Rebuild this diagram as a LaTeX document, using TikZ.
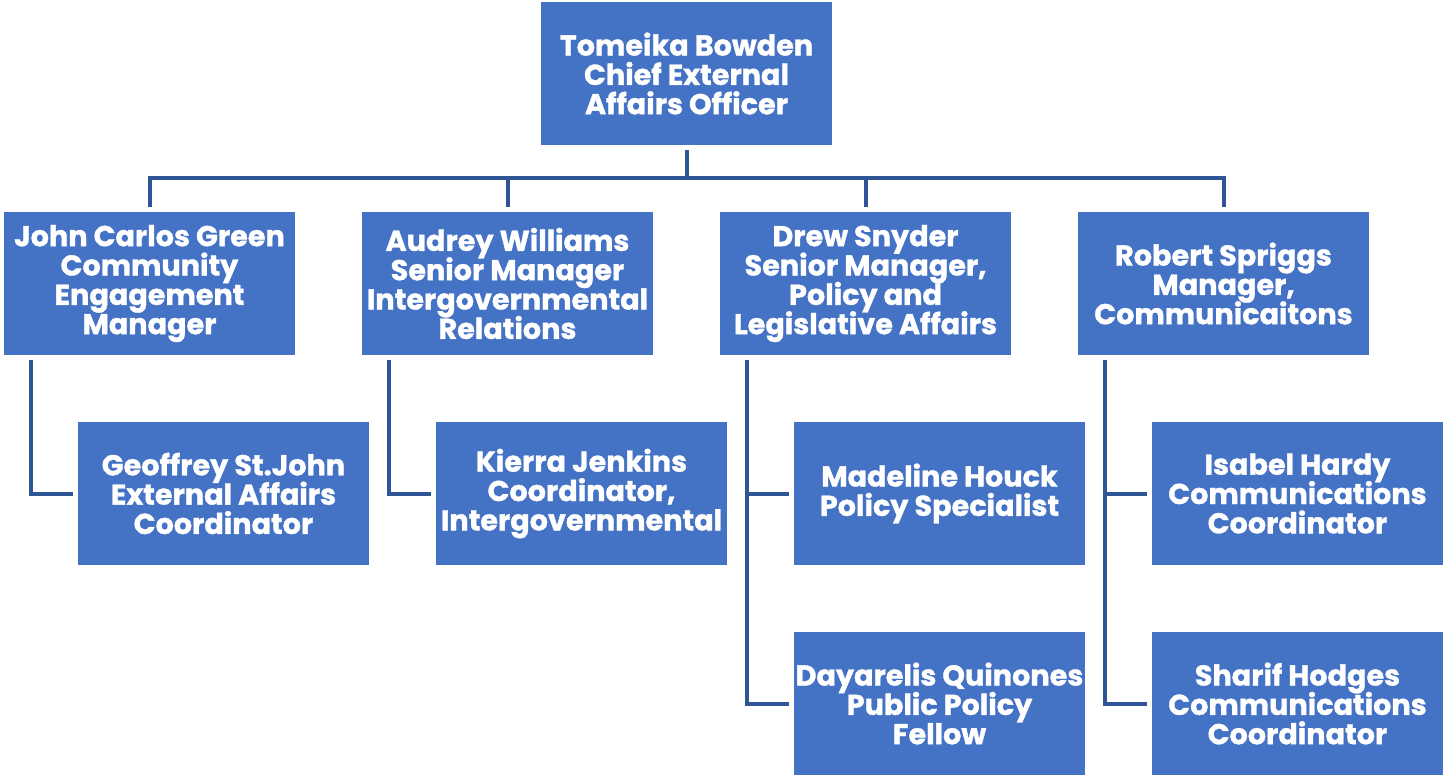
\documentclass[tikz,border=0pt]{standalone}
\usepackage{fontspec}
\setmainfont{Poppins}[BoldFeatures={FakeBold=1.2}]
\definecolor{boxblue}{HTML}{4472C4}
\definecolor{lineblue}{HTML}{2F5597}
\newcommand\orgboxfont{\fontsize{21.5}{22}\selectfont\lineskiplimit=-100pt\relax\lineskip=0pt\relax\bfseries}
\begin{document}
\begin{tikzpicture}[x=0.75pt,y=-0.75pt,
  person/.style={fill=boxblue,draw=none,text=white,inner sep=0pt,
    minimum width=218.25pt,minimum height=107.25pt,align=center,
    font=\orgboxfont},
  conn/.style={draw=lineblue,line width=3pt,shorten <=3.75pt,shorten >=3.75pt}]
\useasboundingbox (0,0) rectangle (1443,775);
\node[person] (top) at (686.5,73.5) {Tomeika Bowden\\Chief External\\Affairs Officer};
\node[person] (m1) at (149.5,283.5) {John Carlos Green\\Community\\Engagement\\Manager};
\node[person] (m2) at (507.5,283.5) {Audrey Williams\\Senior Manager\\Intergovernmental\\Relations};
\node[person] (m3) at (865.5,283.5) {Drew Snyder\\Senior Manager,\\Policy and\\Legislative Affairs};
\node[person] (m4) at (1223.5,283.5) {Robert Spriggs\\Manager,\\Communicaitons};
\node[person] (c1) at (223.5,493.5) {Geoffrey St.John\\External Affairs\\Coordinator};
\node[person] (c2) at (581.5,493.5) {Kierra Jenkins\\Coordinator,\\Intergovernmental};
\node[person] (c3) at (939.5,493.5) {Madeline Houck\\Policy Specialist};
\node[person] (c4) at (939.5,703.5) {Dayarelis Quinones\\Public Policy\\Fellow};
\node[person] (c5) at (1297.5,493.5) {Isabel Hardy\\Communications\\Coordinator};
\node[person] (c6) at (1297.5,703.5) {Sharif Hodges\\Communications\\Coordinator};
\foreach \m in {m1,m2,m3,m4}
  \draw[conn] (top.south) -- ++(0,33) -| (\m.north);
\draw[conn] ([xshift=20.25pt]m1.south west) |- (c1.west);
\draw[conn] ([xshift=20.25pt]m2.south west) |- (c2.west);
\draw[conn] ([xshift=20.25pt]m3.south west) |- (c3.west);
\draw[conn] ([xshift=20.25pt]m3.south west) |- (c4.west);
\draw[conn] ([xshift=20.25pt]m4.south west) |- (c5.west);
\draw[conn] ([xshift=20.25pt]m4.south west) |- (c6.west);
\end{tikzpicture}
\end{document}
